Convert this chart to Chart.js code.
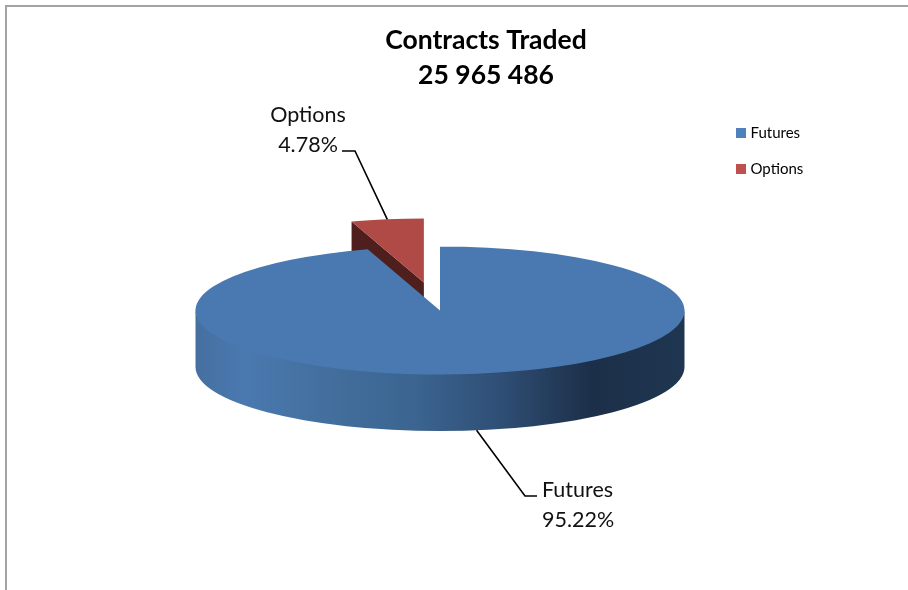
<!DOCTYPE html>
<html>
<head>
<meta charset="utf-8">
<script src="https://cdn.jsdelivr.net/npm/chart.js@4"></script>
<style>
html,body{margin:0;padding:0;background:#fff;width:908px;height:590px;overflow:hidden}
#frame{position:absolute;left:5px;top:5px;border-left:2px solid #a3a3a3;border-top:2px solid #a3a3a3}
canvas{display:block}
</style>
</head>
<body>
<div id="frame"><canvas id="c" width="958" height="590" style="width:958px;height:590px"></canvas></div>
<script>
const titleLines = ['Contracts Traded', '25 965 486'];
const categories = ['Futures', 'Options'];
const shares = [95.22, 4.78];
const topColors = ['#4a79b1', '#b04a46'];
const legendColors = ['#4f81bd', '#c0504d'];
const cutWallColors = ['#1d3049', '#4e1f1d'];
// how far each slice is pulled out, as a fraction of the pie radius
const explode = [0, 0.441];
const FONT = 'Lato, Carlito, "Open Sans", sans-serif';

// 3D projection of the library's flat pie (canvas coordinates)
const view = {cx: 433, cy: 303.5, rx: 244.5, ry: 64, depth: 56.5};
// leader elbows and label anchors, per category (canvas coordinates)
const labelLayout = [
  {elbow: [[518, 489], [530, 489]], x: 535, y: 483, align: 'left'},
  {elbow: [[348, 144], [335, 144]], x: 301, y: 108, align: 'center'}
];

function project(el, i, a, r, lift) {
  const off = explode[i] * el.outerRadius;
  const mid = (el.startAngle + el.endAngle) / 2;
  const sx = view.rx / el.outerRadius, sy = view.ry / el.outerRadius;
  return {
    x: view.cx + (Math.cos(mid) * off + Math.cos(a) * r) * sx,
    y: view.cy + (Math.sin(mid) * off + Math.sin(a) * r) * sy + (lift || 0)
  };
}

const pie3d = {
  id: 'pie3d',
  afterLayout(chart) {
    const lg = chart.legend, w = lg.right - lg.left;
    lg.left = 711; lg.right = lg.left + w;
    lg.top = 97.5;
  },
  afterDatasetUpdate(chart) {
    // each arc is drawn by the library, moved out along its own mid-angle
    chart.getDatasetMeta(0).data.forEach((el, i) => {
      if (el.__exploded || !explode[i]) return;
      el.__exploded = true;
      const draw = el.draw;
      el.draw = function (ctx) {
        const mid = (this.startAngle + this.endAngle) / 2;
        const off = explode[i] * this.outerRadius;
        ctx.save();
        ctx.translate(Math.cos(mid) * off, Math.sin(mid) * off);
        draw.call(this, ctx);
        ctx.restore();
      };
    });
  },
  beforeDatasetsDraw(chart) {
    const ctx = chart.ctx, arcs = chart.getDatasetMeta(0).data;
    arcs.forEach((el, i) => {
      const d = view.depth, R = el.outerRadius;
      const a = project(el, i, 0, 0), s = project(el, i, el.startAngle, R);
      // radial cut wall, visible on the exploded slice
      if (explode[i] > 0) {
        ctx.beginPath();
        ctx.moveTo(a.x, a.y); ctx.lineTo(s.x, s.y);
        ctx.lineTo(s.x, s.y + d); ctx.lineTo(a.x, a.y + d);
        ctx.closePath();
        ctx.fillStyle = cutWallColors[i];
        ctx.fill();
      }
      // rim wall, front half of the ellipse only; its top edge tucks under the slice
      const from = Math.max(el.startAngle, 0), to = Math.min(el.endAngle, Math.PI);
      if (to > from) {
        const c = a;
        const g = ctx.createLinearGradient(c.x - view.rx, 0, c.x + view.rx, 0);
        g.addColorStop(0, '#456f9f');
        g.addColorStop(0.1, '#4a79b0');
        g.addColorStop(0.25, '#44709f');
        g.addColorStop(0.45, '#3b6490');
        g.addColorStop(0.62, '#2f4f76');
        g.addColorStop(0.81, '#1c2f48');
        g.addColorStop(1, '#1f3651');
        ctx.beginPath();
        ctx.ellipse(c.x, c.y - 2, view.rx, view.ry, 0, from, to, false);
        ctx.ellipse(c.x, c.y + d, view.rx, view.ry, 0, to, from, true);
        ctx.closePath();
        ctx.fillStyle = g;
        ctx.fill();
      }
    });
    const el = arcs[0];
    ctx.save();
    ctx.translate(view.cx, view.cy);
    ctx.scale(view.rx / el.outerRadius, view.ry / el.outerRadius);
    ctx.translate(-el.x, -el.y);
  },
  afterDatasetsDraw(chart) {
    chart.ctx.restore();
  },
  afterDraw(chart) {
    const ctx = chart.ctx, arcs = chart.getDatasetMeta(0).data;
    arcs.forEach((el, i) => {
      const mid = (el.startAngle + el.endAngle) / 2;
      const front = Math.sin(mid) > 0;
      const p = project(el, i, mid, el.outerRadius, front ? view.depth : 0);
      const L = labelLayout[i];
      ctx.beginPath();
      ctx.moveTo(p.x, p.y);
      L.elbow.forEach(q => ctx.lineTo(q[0], q[1]));
      ctx.lineWidth = 1.6;
      ctx.strokeStyle = '#000';
      ctx.stroke();
      ctx.fillStyle = '#111';
      ctx.font = '21.5px ' + FONT;
      ctx.textAlign = L.align;
      ctx.textBaseline = 'middle';
      ctx.fillText(categories[i], L.x, L.y);
      ctx.fillText(shares[i].toFixed(2) + '%', L.x, L.y + 30);
    });
  }
};

new Chart(document.getElementById('c'), {
  type: 'pie',
  plugins: [pie3d],
  data: {
    labels: categories,
    datasets: [{
      data: shares,
      backgroundColor: topColors,
      borderWidth: 0,
      radius: 196,
      clip: false
    }]
  },
  options: {
    responsive: false,
    animation: false,
    plugins: {
      title: {
        display: true,
        text: titleLines,
        color: '#000',
        font: {family: FONT, size: 26.5, weight: 'bold', lineHeight: 1.32},
        padding: {top: 16, bottom: 10}
      },
      legend: {
        position: 'right',
        align: 'start',
        labels: {
          boxWidth: 4,
          boxHeight: 4,
          padding: 21,
          color: '#111',
          font: {family: FONT, size: 15},
          generateLabels: () => categories.map((t, i) => ({
            text: t, fillStyle: legendColors[i], strokeStyle: legendColors[i], lineWidth: 6, index: i
          }))
        }
      },
      tooltip: {enabled: false}
    }
  }
});
</script>
</body>
</html>
